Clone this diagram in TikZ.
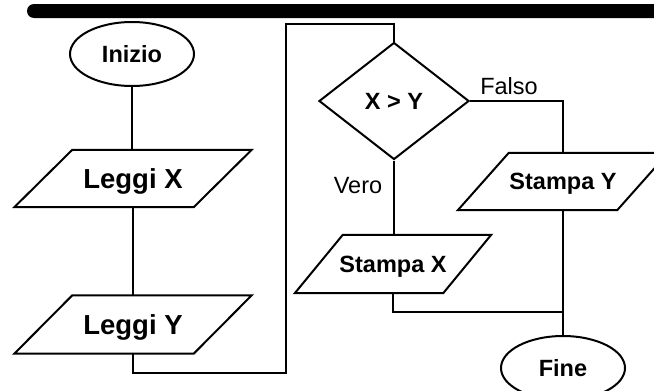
\documentclass[tikz,border=0pt]{standalone}
\usepackage{fontspec}
\setmainfont{Liberation Sans}
\usetikzlibrary{shapes.geometric}

% outline of an input/output box drawn round a rectangular node:
% #1 node name, #2 horizontal slant of the sides
\newcommand\iooutline[2]{%
  \draw[shapeline] ([xshift=#2/2]#1.north west) -- ([xshift=#2/2]#1.north east)
    -- ([xshift=-#2/2]#1.south east) -- ([xshift=-#2/2]#1.south west) -- cycle;}

\tikzset{
  shapeline/.style={line width=2pt, line join=miter, black},
  link/.style={line width=1.2pt, black},
  bigtext/.style={font=\bfseries\fontsize{27.5}{30}\selectfont, text height=19.7pt, text depth=0pt},
  midtext/.style={font=\bfseries\fontsize{23.5}{28}\selectfont, text height=16.9pt, text depth=0pt},
  lbl/.style={font=\fontsize{23.5}{26}\selectfont, inner sep=0pt},
  terminal/.style={ellipse, shapeline, draw, minimum width=124pt, minimum height=64pt, inner sep=0pt, midtext},
  iobox/.style={rectangle, inner sep=0pt},
  decision/.style={diamond, shapeline, draw, minimum width=150pt, minimum height=117pt, inner sep=0pt, midtext}
}

\begin{document}
\begin{tikzpicture}[x=1pt, y=-1pt]
  \useasboundingbox (0,0) rectangle (654,391);
  \clip (0,0) rectangle (654,391);

  % heading bar
  \fill[black, rounded corners=7pt] (27,4) rectangle (690,18);

  % nodes
  \node[terminal] (ini) at (132,54) {Inizio};
  \node[iobox, bigtext, minimum width=179pt, minimum height=57pt] (lx) at (133,178.5) {Leggi X};
  \node[iobox, bigtext, minimum width=179pt, minimum height=58pt] (ly) at (133,324.5) {Leggi Y};
  \node[decision] (dec) at (394,101) {X > Y};
  \node[iobox, midtext, minimum width=148pt, minimum height=58pt] (sx) at (393,264) {Stampa X};
  \node[iobox, midtext, minimum width=159pt, minimum height=57pt] (sy) at (563,181.5) {Stampa Y};
  \node[terminal] (fine) at (563,368) {Fine};

  \iooutline{lx}{58pt}
  \iooutline{ly}{58pt}
  \iooutline{sx}{48pt}
  \iooutline{sy}{51pt}

  % branch labels
  \node[lbl] (falso) at (509,86.5) {Falso};
  \node[lbl] (vero) at (358,185.5) {Vero};

  % bends of the connectors
  \coordinate (c1) at (286,373);
  \coordinate (c2) at (286,24);
  \coordinate (j) at (563,312);

  % connectors
  \draw[link] (ini.south) -- (ini.south |- lx.north);
  \draw[link] (lx.south) -- (ly.north);
  \draw[link] (ly.south) |- (c1) -- (c2) -| (dec.north);
  \draw[link] (dec.south) -- (dec.south |- sx.north);
  \draw[link] (dec.east) -| (sy.north);
  \draw[link] (sx.south) |- (j);
  \draw[link] (sy.south) -- (fine.north);
\end{tikzpicture}
\end{document}
